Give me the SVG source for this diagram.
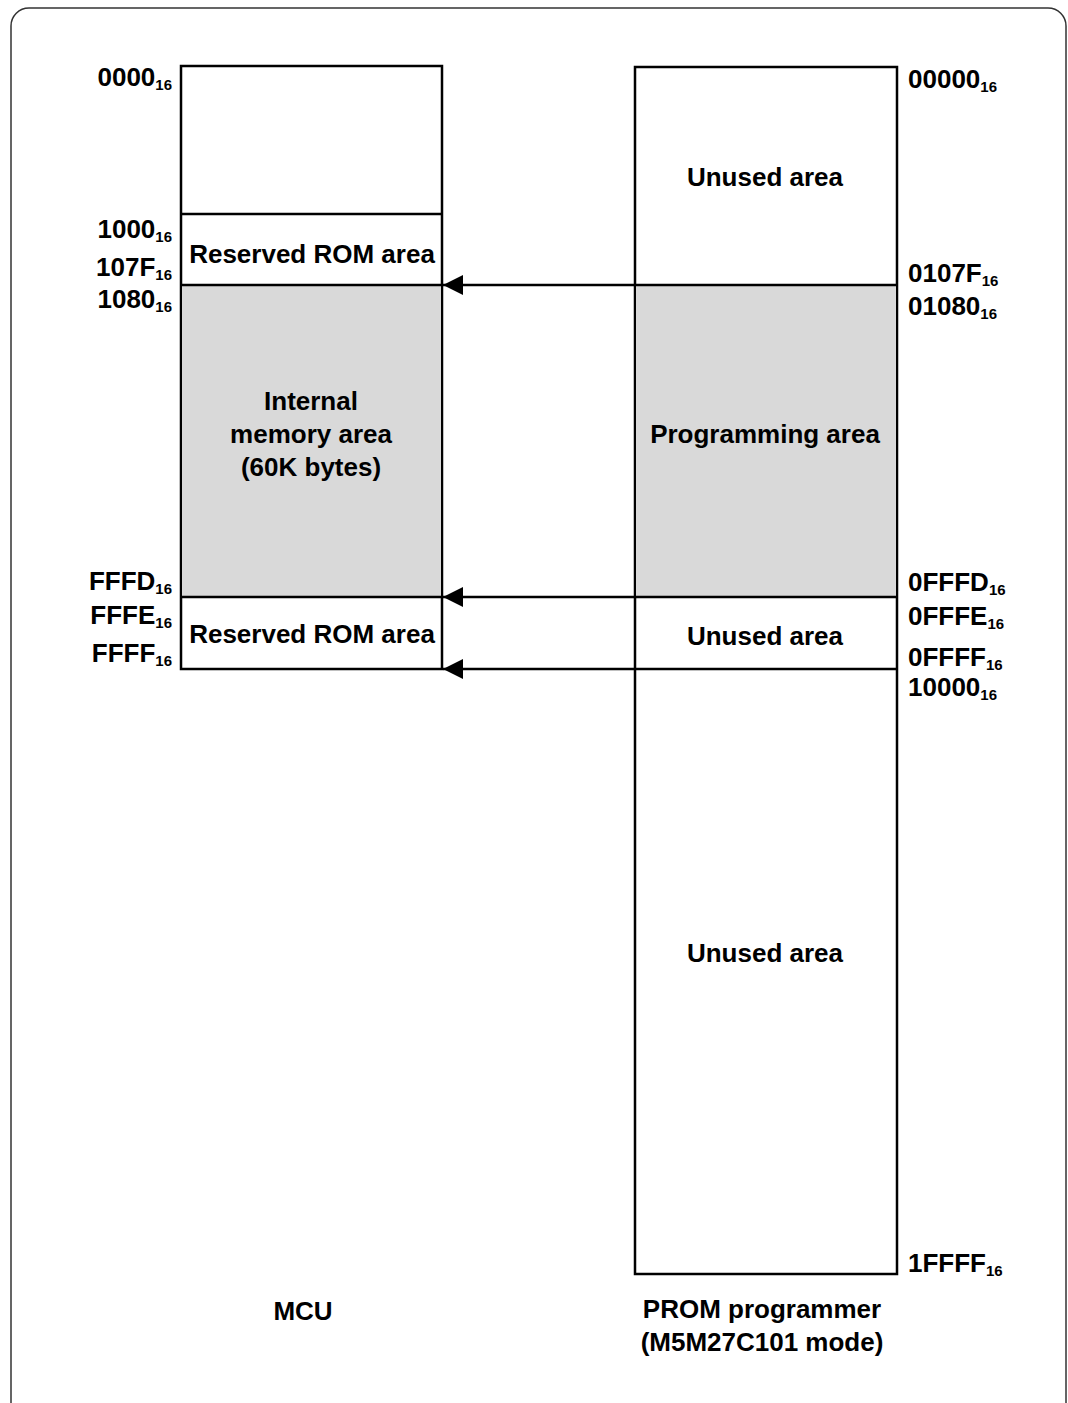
<svg xmlns="http://www.w3.org/2000/svg" width="1068" height="1403" viewBox="0 0 1068 1403">
<style>
text{font-family:"Liberation Sans",Arial,Helvetica,sans-serif;font-weight:700;fill:#000}
.t{font-size:26px}
.c{text-anchor:middle}
.r{text-anchor:end}
.s{font-size:15px}
.box{stroke:#000;stroke-width:2.5;fill:#fff}
.g{fill:#d9d9d9}
.ln{stroke:#000;stroke-width:2.5;fill:none}
</style>
<defs>
<marker id="ah" markerWidth="20" markerHeight="20" refX="20" refY="10" orient="auto" markerUnits="userSpaceOnUse">
<path d="M0,0 L20,10 L0,20 Z" fill="#000"/>
</marker>
</defs>
<rect x="11" y="8" width="1055" height="1430" rx="18" ry="18" fill="#fff" stroke="#333" stroke-width="1.5"/>

<g id="mcu">
<rect class="box" x="181" y="66" width="261" height="603"/>
<rect class="g" x="182" y="285" width="259" height="312"/>
<line class="ln" x1="181" y1="214" x2="442" y2="214"/>
<line class="ln" x1="181" y1="285" x2="442" y2="285"/>
<line class="ln" x1="181" y1="597" x2="442" y2="597"/>
<text class="t c" x="312" y="263">Reserved ROM area</text>
<text class="t c" x="311" y="410">Internal</text>
<text class="t c" x="311" y="443">memory area</text>
<text class="t c" x="311" y="476">(60K bytes)</text>
<text class="t c" x="312" y="643">Reserved ROM area</text>
<text class="t c" x="303" y="1320">MCU</text>
</g>

<g id="mcu-labels">
<text class="t r" x="172" y="86">0000<tspan class="s" dy="4">16</tspan></text>
<text class="t r" x="172" y="238">1000<tspan class="s" dy="4">16</tspan></text>
<text class="t r" x="172" y="276">107F<tspan class="s" dy="4">16</tspan></text>
<text class="t r" x="172" y="308">1080<tspan class="s" dy="4">16</tspan></text>
<text class="t r" x="172" y="590">FFFD<tspan class="s" dy="4">16</tspan></text>
<text class="t r" x="172" y="624">FFFE<tspan class="s" dy="4">16</tspan></text>
<text class="t r" x="172" y="662">FFFF<tspan class="s" dy="4">16</tspan></text>
</g>

<g id="prom">
<rect class="box" x="635" y="67" width="262" height="1207"/>
<rect class="g" x="636" y="285" width="260" height="312"/>
<line class="ln" x1="635" y1="285" x2="897" y2="285"/>
<line class="ln" x1="635" y1="597" x2="897" y2="597"/>
<line class="ln" x1="635" y1="669" x2="897" y2="669"/>
<text class="t c" x="765" y="186">Unused area</text>
<text class="t c" x="765" y="443">Programming area</text>
<text class="t c" x="765" y="645">Unused area</text>
<text class="t c" x="765" y="962">Unused area</text>
<text class="t c" x="762" y="1318">PROM programmer</text>
<text class="t c" x="762" y="1351">(M5M27C101 mode)</text>
</g>

<g id="prom-labels">
<text class="t" x="908" y="88">00000<tspan class="s" dy="4">16</tspan></text>
<text class="t" x="908" y="282">0107F<tspan class="s" dy="4">16</tspan></text>
<text class="t" x="908" y="315">01080<tspan class="s" dy="4">16</tspan></text>
<text class="t" x="908" y="591">0FFFD<tspan class="s" dy="4">16</tspan></text>
<text class="t" x="908" y="625">0FFFE<tspan class="s" dy="4">16</tspan></text>
<text class="t" x="908" y="666">0FFFF<tspan class="s" dy="4">16</tspan></text>
<text class="t" x="908" y="696">10000<tspan class="s" dy="4">16</tspan></text>
<text class="t" x="908" y="1272">1FFFF<tspan class="s" dy="4">16</tspan></text>
</g>

<g id="connectors">
<line class="ln" x1="635" y1="285" x2="443" y2="285" marker-end="url(#ah)"/>
<line class="ln" x1="635" y1="597" x2="443" y2="597" marker-end="url(#ah)"/>
<line class="ln" x1="635" y1="669" x2="443" y2="669" marker-end="url(#ah)"/>
</g>
</svg>
